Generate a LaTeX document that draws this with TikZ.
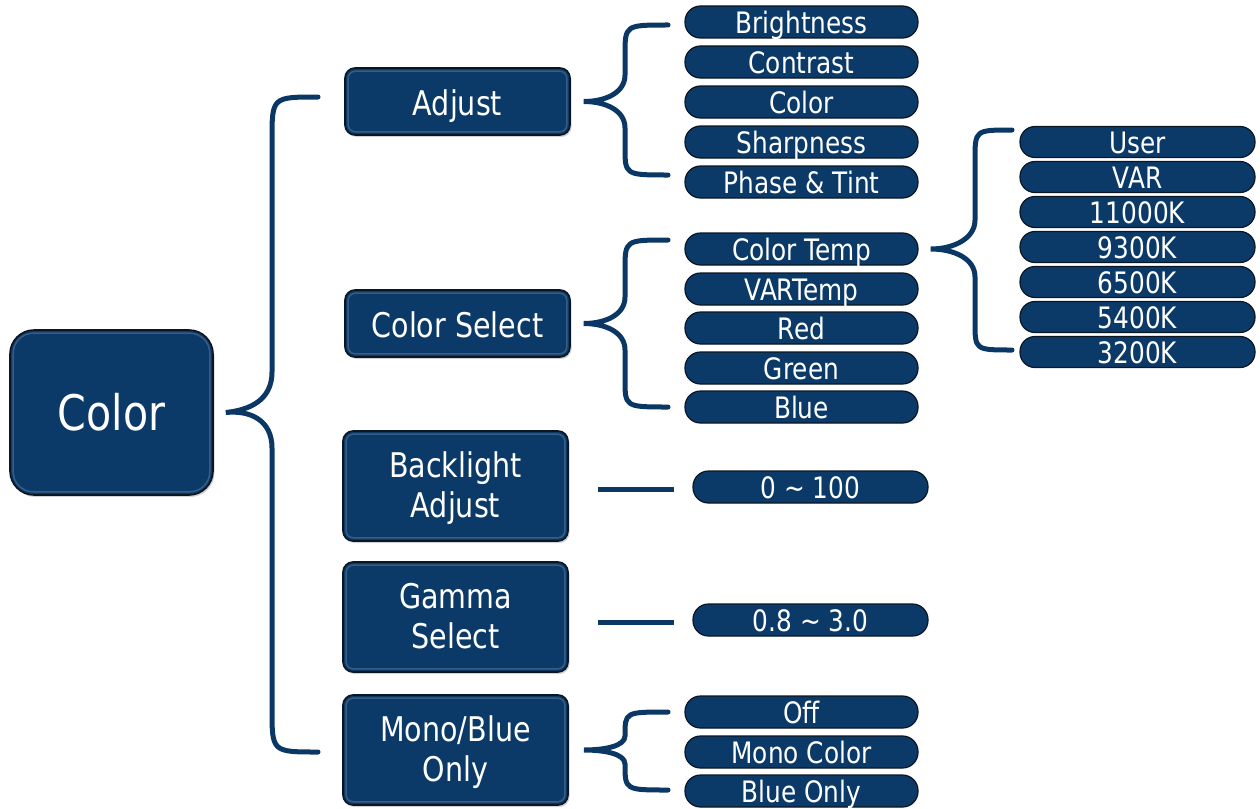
\documentclass[tikz,border=0pt]{standalone}
\usepackage{fontspec}
\setmainfont{DejaVu Sans}[FakeStretch=0.84]
\usetikzlibrary{shadows}
\definecolor{navy}{HTML}{0B3A69}
\definecolor{edgec}{HTML}{0A1622}
\definecolor{brc}{HTML}{0B3764}
\newcommand\twolines[2]{\begin{tabular}[t]{@{}c@{}}#1\\#2\end{tabular}}
\begin{document}
\begin{tikzpicture}[x=1pt,y=-1pt,
  boxbase/.style={draw=edgec,line width=1.6pt,fill=navy,text=white,align=center,inner sep=0pt,
    drop shadow={opacity=0.35,shadow xshift=1.5pt,shadow yshift=-2pt}},
  rootbox/.style={boxbase,rounded corners=24pt,minimum width=203pt,minimum height=165pt,font=\fontsize{49}{52}\selectfont},
  midbox/.style={boxbase,rounded corners=10pt,minimum width=225pt,font=\fontsize{34}{40}\selectfont},
  onebox/.style={midbox,minimum height=67pt,text height=28pt,text depth=0pt},
  twobox/.style={midbox,minimum height=110pt,text height=20pt,text depth=36.8pt},
  pill/.style={draw=edgec,line width=1.2pt,fill=navy,text=white,inner sep=0pt,rounded corners=15.5pt,
    minimum height=32pt,text height=26pt,text depth=3pt,font=\fontsize{29.5}{31}\selectfont},
  lpill/.style={pill,minimum width=233pt},
  rpill/.style={pill,minimum width=235pt,minimum height=31pt,rounded corners=15pt},
  rim/.style={draw=white,opacity=0.18,line width=1.5pt},
  brace/.style={draw=brc,line width=5pt,line cap=round},
  link/.style={draw=brc,line width=5pt}
]
\useasboundingbox (0,0) rectangle (1260,808);

% root and level-2 boxes
\node[rootbox] (root) at (111.5,412.5) {Color};
\node[onebox] (adj) at (457.5,101.5) {Adjust};
\node[onebox] (csel) at (457.5,323.5) {Color Select};
\node[twobox] (bl) at (455.5,486) {\twolines{Backlight}{Adjust}};
\node[twobox] (gam) at (455.5,617) {\twolines{Gamma}{Select}};
\node[twobox] (mono) at (455.5,750) {\twolines{Mono/Blue}{Only}};

% subtle bevel rims
\foreach \n/\r in {root/20pt,adj/7pt,csel/7pt,bl/7pt,gam/7pt,mono/7pt}{
  \draw[rim,rounded corners=\r] ([shift={(4pt,-4pt)}]\n.north west) rectangle ([shift={(-4pt,4pt)}]\n.south east);
}

% Adjust items
\node[lpill] (bri) at (801.5,22) {Brightness};
\node[lpill] (con) at (801.5,62) {Contrast};
\node[lpill] (col) at (801.5,102) {Color};
\node[lpill] (sha) at (801.5,142) {Sharpness};
\node[lpill] (pha) at (801.5,182) {Phase \& Tint};

% Color select items
\node[lpill] (ct) at (801.5,249) {Color Temp};
\node[lpill] (vt) at (801.5,289) {VARTemp};
\node[lpill] (red) at (801.5,328) {Red};
\node[lpill] (grn) at (801.5,368) {Green};
\node[lpill] (blu) at (801.5,407) {Blue};

% Color temp items
\node[rpill] (usr) at (1137.5,142) {User};
\node[rpill] (var) at (1137.5,177) {VAR};
\node[rpill] (k11) at (1137.5,212) {11000K};
\node[rpill] (k93) at (1137.5,247) {9300K};
\node[rpill] (k65) at (1137.5,282) {6500K};
\node[rpill] (k54) at (1137.5,317) {5400K};
\node[rpill] (k32) at (1137.5,352) {3200K};

% single values
\node[pill,minimum width=235pt] (v1) at (810.5,487) {0 \textasciitilde{} 100};
\node[pill,minimum width=235pt] (v2) at (810.5,620) {0.8 \textasciitilde{} 3.0};

% mono items
\node[lpill] (off) at (801.5,712) {Off};
\node[lpill] (mc) at (801.5,752) {Mono Color};
\node[lpill] (bo) at (801.5,791) {Blue Only};

% braces: tip coordinates from parents
\coordinate (t0) at ([xshift=12pt]root.east);
\coordinate (t1) at ([xshift=13pt]adj.east);
\coordinate (t2) at ([xshift=13pt]csel.east);
\coordinate (t3) at ([xshift=12pt]ct.east);
\coordinate (t5) at ([xshift=15pt]mono.east);

% main brace X=272
\draw[brace] (318,97) .. controls (272,97) .. (272,140) -- (272,372)
  .. controls (272,400) and (250,410) .. (t0)
  .. controls (250,410) and (272,420) .. (272,448) -- (272,709)
  .. controls (272,752) .. (318,752);
% adjust brace X=625
\draw[brace] (668,25) .. controls (625,25) .. (625,55) -- (625,75)
  .. controls (625,93) and (605,101.5) .. (t1)
  .. controls (605,101.5) and (625,110) .. (625,128) -- (625,147)
  .. controls (625,175) .. (668,175);
% color select brace
\draw[brace] (668,240) .. controls (625,240) .. (625,270) -- (625,297)
  .. controls (625,315) and (605,323.5) .. (t2)
  .. controls (605,323.5) and (625,332) .. (625,350) -- (625,379)
  .. controls (625,407) .. (668,407);
% color temp brace X=975
\draw[brace] (1012,130) .. controls (975,130) .. (975,160) -- (975,220)
  .. controls (975,239) and (953,249) .. (t3)
  .. controls (953,249) and (975,258) .. (975,277) -- (975,322)
  .. controls (975,350) .. (1012,350);
% mono brace
\draw[brace] (668,712) .. controls (625,712) .. (625,736)
  .. controls (625,746) and (605,750) .. (t5)
  .. controls (605,750) and (625,754) .. (625,764)
  .. controls (625,790) .. (668,790);

% straight links
\coordinate (l1s) at ([xshift=29pt,yshift=-3pt]bl.east);
\coordinate (l1e) at ([xshift=-18pt]v1.west |- l1s);
\coordinate (l2s) at ([xshift=29pt,yshift=-5pt]gam.east);
\coordinate (l2e) at ([xshift=-18pt]v2.west |- l2s);
\draw[link] (l1s) -- (l1e);
\draw[link] (l2s) -- (l2e);
\end{tikzpicture}
\end{document}
